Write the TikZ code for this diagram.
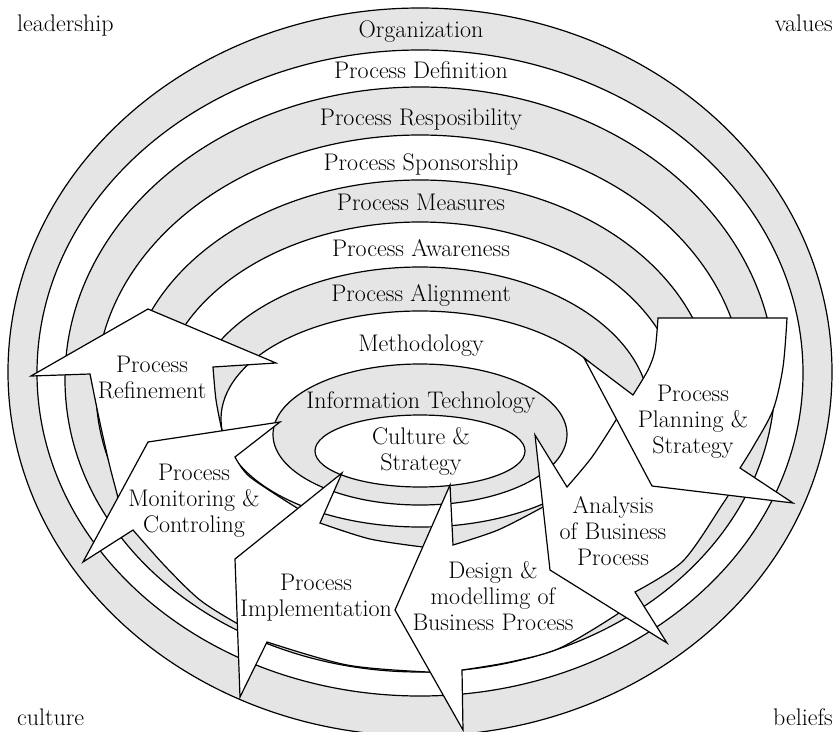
\documentclass[tikz,border=0pt]{standalone}
\begin{document}
\begin{tikzpicture}[x=1pt,y=-1pt,
  ring/.style={draw=black, line width=1.2pt},
  arr/.style={draw=black, fill=white, line width=1.2pt, line join=miter},
  lbl/.style={font=\fontsize{24}{25.8}\selectfont, align=center, anchor=base, inner sep=0pt},
  corner/.style={font=\fontsize{24}{25.8}\selectfont, inner sep=0pt}
]
\useasboundingbox (0,0) rectangle (835,731);
\begin{scope}
\clip (0,0) rectangle (835,731);
\foreach \cy/\rx/\ry/\col in {372/412/364/gray!20, 373/383/323/white, 379.5/355/292.5/gray!20, 389.5/324/254.5/white, 398/293/218/gray!20, 405/261/183/white, 413.5/230/146.5/gray!20, 419/199/108/white, 434.5/147/70.5/gray!20, 451/105/36/white}
  \draw[ring, fill=\col] (420,\cy) ellipse [x radius=\rx pt, y radius=\ry pt];
\end{scope}
% Process Refinement
\draw[arr] (213,367) -- (276,363) -- (148,309) -- (31,376) -- (90,374)
  -- plot[smooth] coordinates {(90,374) (100,423) (110,467) (118,498) (122,520)}
  -- (226,444) -- plot[smooth] coordinates {(222,431) (216,400) (213,367)} -- cycle;
% Process Monitoring
\draw[arr] (235,457) -- (280,422) -- (148,442) -- (83,562) -- (133,530)
  -- plot[smooth] coordinates {(133,530) (165,566) (200,600) (238,624) (252,630)}
  -- (310,525) -- plot[smooth] coordinates {(297,508) (250,477) (235,457)} -- cycle;
% Process Implementation
\draw[arr] (320,523) -- (342,473) -- (235,559) -- (240,697) -- (267,642)
  -- plot[smooth] coordinates {(267,642) (347,665) (428,672) (442,670)}
  -- (437,550) -- plot[smooth] coordinates {(423,547) (370,539) (320,523)} -- cycle;
% Design
\draw[arr] (453,545) -- (450,485) -- (395,610) -- (463,730) -- (462,670)
  -- plot[smooth] coordinates {(462,670) (510,662) (560,648) (619,613) (630,601)}
  -- (552,500) -- plot[smooth] coordinates {(543,507) (498,530) (453,545)} -- cycle;
% Analysis
\draw[arr] (567,487) -- (535,435) -- (550,570) -- (667,643) -- (635,592)
  -- plot[smooth] coordinates {(635,592) (683,561) (722,505) (732,489)}
  -- (627,410) -- plot[smooth] coordinates {(616,420) (592,457) (567,487)} -- cycle;
% Planning
\draw[arr] (658,318) -- (787,318)
  -- plot[smooth] coordinates {(787,318) (783,367) (773,410) (753,447) (740,468)}
  -- (793,503) -- (652,486) -- (584,358) -- (633,395)
  -- plot[smooth] coordinates {(633,395) (648,370) (655,350) (658,318)} -- cycle;
% labels (anchor = baseline of the last line)
\node[lbl] (org) at (421,37.5) {Organization};
\node[lbl] (pdef) at (421,78) {Process Definition};
\node[lbl] (presp) at (421,125) {Process Resposibility};
\node[lbl] (pspon) at (421,170) {Process Sponsorship};
\node[lbl] (pmeas) at (421,210) {Process Measures};
\node[lbl] (pawar) at (421,256) {Process Awareness};
\node[lbl] (palig) at (421,301) {Process Alignment};
\node[lbl] (meth) at (421,351) {Methodology};
\node[lbl] (it) at (421,408) {Information Technology};
\node[lbl] (cs) at (421,470) {Culture \&\\Strategy};
\node[lbl] (refi) at (152,398) {Process\\Refinement};
\node[lbl] (moni) at (194,532) {Process\\Monitoring \&\\Controling};
\node[lbl] (impl) at (316,616) {Process\\Implementation};
\node[lbl] (desi) at (493,630) {Design \&\\modellimg of\\Business Process};
\node[lbl] (anal) at (613,565) {Analysis\\of Business\\Process};
\node[lbl] (plan) at (693,453) {Process\\Planning \&\\Strategy};
\node[corner, anchor=base west] (lead) at (17,31) {leadership};
\node[corner, anchor=base east] (vals) at (833,31) {values};
\node[corner, anchor=base west] (cult) at (17,725) {culture};
\node[corner, anchor=base east] (beli) at (833,725) {beliefs};
\end{tikzpicture}
\end{document}
